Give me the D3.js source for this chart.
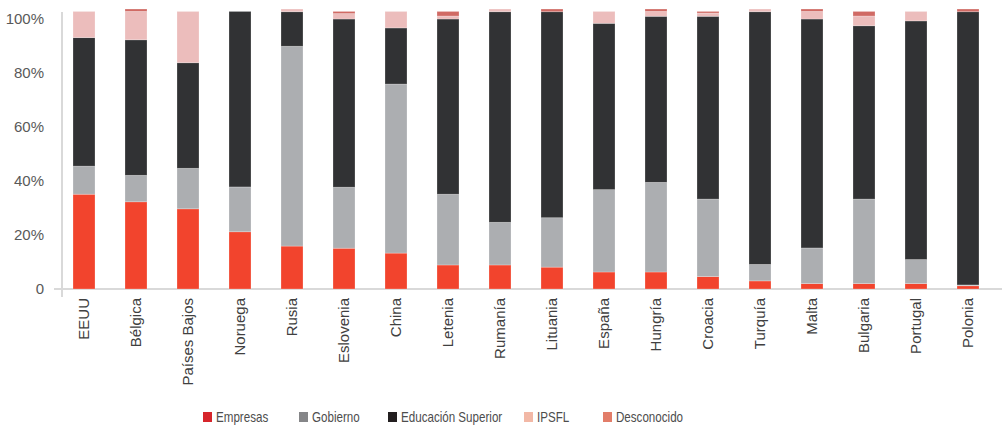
<!DOCTYPE html>
<html>
<head>
<meta charset="utf-8">
<script src="https://cdn.jsdelivr.net/npm/d3@7"></script>
<style>
  html, body { margin: 0; padding: 0; background: #fff; }
  svg { display: block; }
</style>
</head>
<body>
<svg id="chart" width="1002" height="426"></svg>
<script>
const categories = ["EEUU","Bélgica","Países Bajos","Noruega","Rusia","Eslovenia","China","Letenia","Rumanía","Lituania","España","Hungría","Croacia","Turquía","Malta","Bulgaria","Portugal","Polonia"];
const empresas    = [35.1,32.3,29.7,21.2,15.9,15.1,13.3, 8.9, 8.9, 8.1, 6.3, 6.3, 4.6, 3.0, 2.0, 2.0, 2.0, 1.2];
const gobierno    = [10.4, 9.8,15.0,16.6,74.0,22.6,62.6,26.2,15.8,18.3,30.5,33.2,28.7, 6.1,13.2,31.3, 8.9, 0.3];
const educacion   = [47.6,50.2,39.1,65.0,12.8,62.3,20.8,64.9,78.0,76.3,61.6,61.5,67.7,93.6,84.8,64.2,88.4,101.2];
const ipsfl       = [ 9.7,10.5,19.0, 0.0, 1.0, 2.0, 6.1, 1.1, 1.0, 0.0, 4.4, 1.8, 1.2, 1.0, 2.8, 3.6, 3.5, 0.0];
const desconocido = [ 0.0, 0.9, 0.0, 0.0, 0.0, 0.8, 0.0, 1.7, 0.0, 1.0, 0.0, 0.9, 0.6, 0.0, 0.9, 1.7, 0.0, 1.0];
const seriesNames = ["Empresas","Gobierno","Educación Superior","IPSFL","Desconocido"];
const yTickValues = [0,20,40,60,80,100];
const yTickLabels = ["0","20%","40%","60%","80%","100%"];

const barColors    = ["#f2442d","#acaeb1","#313234","#ecbdbc","#d06a64"];
const legendColors = ["#d6252b","#858688","#231f20","#f2b8a6","#e27d69"];

const keys = ["empresas","gobierno","educacion","ipsfl","desconocido"];
const table = categories.map((c,i) => ({
  cat: c,
  empresas: empresas[i], gobierno: gobierno[i], educacion: educacion[i],
  ipsfl: ipsfl[i], desconocido: desconocido[i]
}));

const svg = d3.select("#chart");
const x = d3.scaleBand().domain(categories).range([58, 994]).paddingInner(0.577).paddingOuter(0.2885);
const y = d3.scaleLinear().domain([0, 100]).range([289, 19]);

const stacked = d3.stack().keys(keys)(table);

// axis lines
svg.append("line").attr("x1", 54).attr("x2", 1002).attr("y1", y(0)).attr("y2", y(0))
  .attr("stroke", "#d9d9d9").attr("stroke-width", 2);
svg.append("line").attr("x1", 62).attr("x2", 62).attr("y1", 12).attr("y2", 297)
  .attr("stroke", "#d9d9d9").attr("stroke-width", 2);

// bars
svg.append("g").selectAll("g").data(stacked).join("g")
  .attr("fill", (d, i) => barColors[i])
  .selectAll("rect").data(d => d).join("rect")
  .attr("x", d => x(d.data.cat))
  .attr("width", x.bandwidth())
  .attr("y", d => y(d[1]))
  .attr("height", d => Math.max(0, y(d[0]) - y(d[1])))
  .attr("stroke", "#fff").attr("stroke-opacity", 0.3).attr("stroke-width", 0.8);

// y axis
const yAxis = svg.append("g").attr("transform", "translate(62,0)")
  .call(d3.axisLeft(y).tickValues(yTickValues).tickSize(0).tickPadding(18)
    .tickFormat((d, i) => yTickLabels[i]));
yAxis.select(".domain").remove();
yAxis.selectAll("text").attr("font-family", "'Liberation Sans', Arial, sans-serif")
  .attr("font-size", 15).attr("fill", "#595959");

// x axis
const xAxis = svg.append("g").attr("transform", `translate(0,${y(0)})`)
  .call(d3.axisBottom(x).tickSize(0));
xAxis.select(".domain").remove();
xAxis.selectAll("text")
  .attr("font-family", "'Liberation Sans', Arial, sans-serif")
  .attr("font-size", 15).attr("fill", "#404040")
  .attr("transform", "rotate(-90)")
  .attr("text-anchor", "end")
  .attr("x", -9).attr("y", 0).attr("dy", "0.35em");

// legend
const legendX = [203, 299, 388, 524, 603];
const lg = svg.append("g").selectAll("g").data(seriesNames).join("g")
  .attr("transform", (d, i) => `translate(${legendX[i]},412)`);
lg.append("rect").attr("width", 9).attr("height", 10).attr("fill", (d, i) => legendColors[i]);
lg.append("g").attr("transform", "translate(13,5) scale(0.8,1)")
  .append("text").attr("x", 0).attr("y", 0).attr("dy", "0.36em")
  .attr("font-family", "'Liberation Sans', Arial, sans-serif")
  .attr("font-size", 14.5).attr("fill", "#4d4d4d").text(d => d);
</script>
</body>
</html>
